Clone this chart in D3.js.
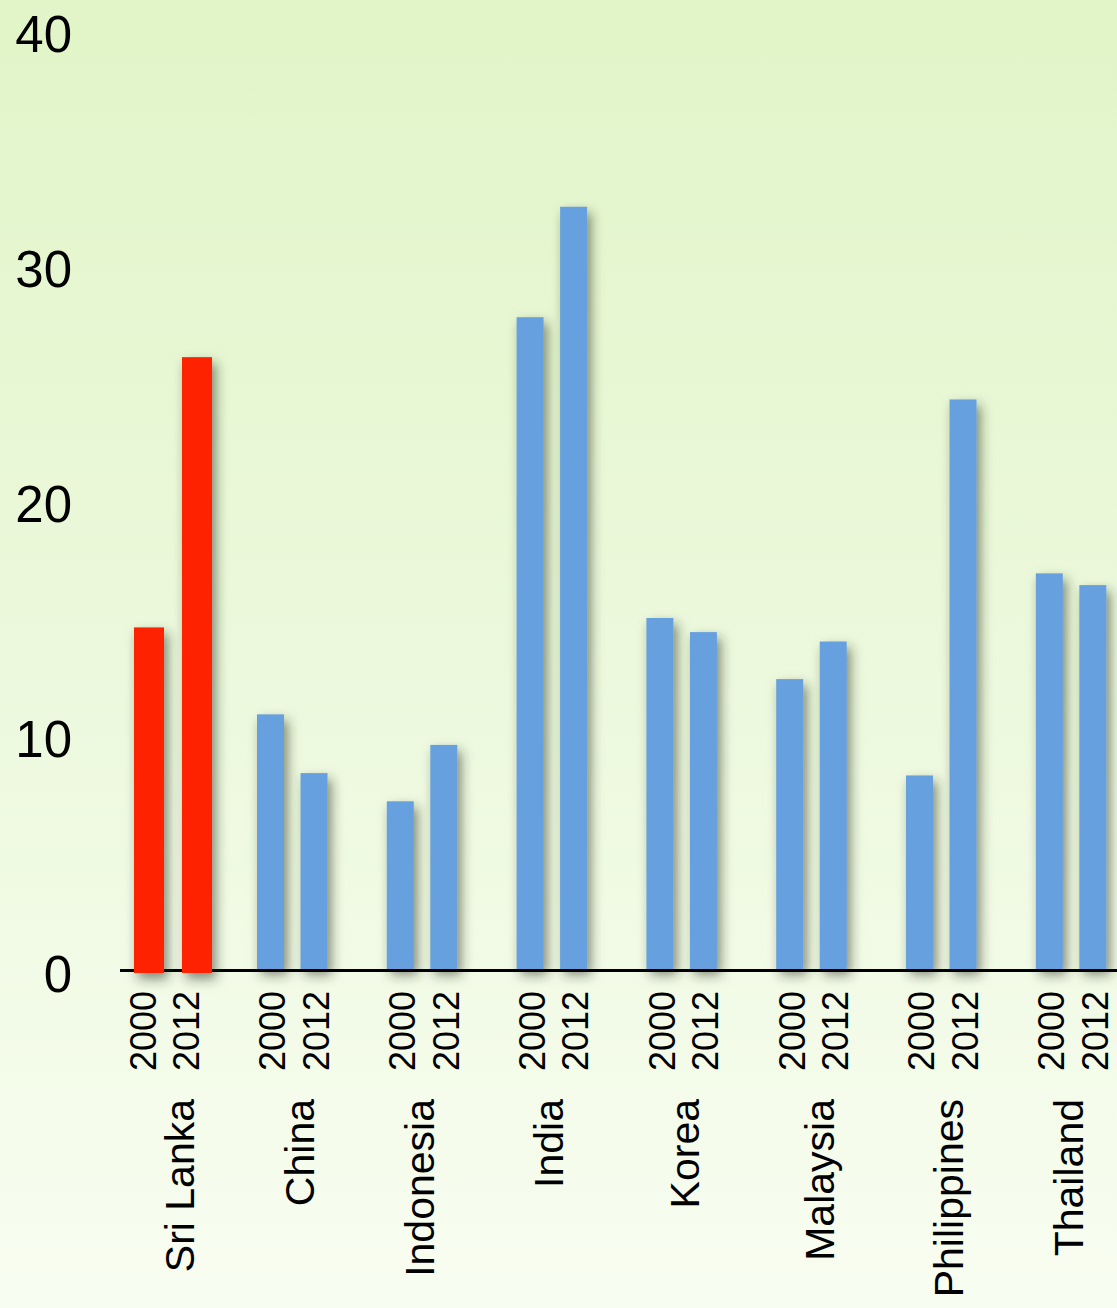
<!DOCTYPE html>
<html>
<head>
<meta charset="utf-8">
<script src="https://cdn.jsdelivr.net/npm/d3@7"></script>
<style>
  html, body { margin: 0; padding: 0; background: #f4fbea; }
  svg { display: block; font-family: "Liberation Sans", Arial, Helvetica, sans-serif; }
</style>
</head>
<body>
<svg id="chart" width="1117" height="1308"></svg>
<script>
// Countries, survey years and the value for each year
const countries = ["Sri Lanka", "China", "Indonesia", "India", "Korea", "Malaysia", "Philippines", "Thailand"];
const years = ["2000", "2012"];
const values2000 = [14.6, 10.9, 7.2, 27.8, 15.0, 12.4, 8.3, 16.9];
const values2012 = [26.1, 8.4, 9.6, 32.5, 14.4, 14.0, 24.3, 16.4];
const yTicks = [0, 10, 20, 30, 40];
const highlight = "Sri Lanka";

// hand placement of the country names relative to their group (px)
const labelShift = [10, 0, -10, -11, -5, 1, 0, -10];

const W = 1117, H = 1308;
const svg = d3.select("#chart");
const defs = svg.append("defs");

// Soft green backdrop fading towards the bottom
const grad = defs.append("linearGradient")
  .attr("id", "bg").attr("x1", 0).attr("y1", 0).attr("x2", 0).attr("y2", 1);
grad.append("stop").attr("offset", "0%").attr("stop-color", "#e1f5c8");
grad.append("stop").attr("offset", "55%").attr("stop-color", "#edf9de");
grad.append("stop").attr("offset", "100%").attr("stop-color", "#f8fdf1");
svg.append("rect").attr("width", W).attr("height", H).attr("fill", "url(#bg)");

// Drop shadow under the bars
const shadow = defs.append("filter").attr("id", "shadow")
  .attr("x", "-60%").attr("y", "-20%").attr("width", "220%").attr("height", "140%");
shadow.append("feDropShadow")
  .attr("dx", 4).attr("dy", 6).attr("stdDeviation", 6)
  .attr("flood-color", "#26301c").attr("flood-opacity", 0.55);

// Scales
const y = d3.scaleLinear().domain([0, 40]).range([970.5, 30.5]);
const x = d3.scaleBand().domain(countries).range([127.2, 1106.3]).paddingInner(0.457).paddingOuter(0);
const xYear = d3.scaleBand().domain(years).range([0, 70.5]).paddingInner(0.38).paddingOuter(0);
// the highlighted country gets wider, slightly shifted bars
const xYearHi = d3.scaleBand().domain(years).range([6.8, 84.8]).paddingInner(0.375).paddingOuter(0);

const rows = [];
countries.forEach((c, i) => {
  rows.push({ country: c, year: "2000", value: values2000[i] });
  rows.push({ country: c, year: "2012", value: values2012[i] });
});

// Y tick labels
const yAxis = d3.axisLeft(y).tickValues(yTicks).tickSize(0).tickPadding(0).tickFormat(d3.format("d"));
const gy = svg.append("g").attr("transform", "translate(72,0)").call(yAxis);
gy.select(".domain").remove();
gy.selectAll("text")
  .attr("fill", "#000").attr("font-size", 51).attr("font-family", null)
  .attr("dy", "0.42em").attr("text-anchor", "end");

// Regular bars
svg.append("g").attr("filter", "url(#shadow)")
  .selectAll("rect")
  .data(rows.filter(d => d.country !== highlight))
  .join("rect")
  .attr("x", d => x(d.country) + xYear(d.year))
  .attr("width", xYear.bandwidth())
  .attr("y", d => y(d.value))
  .attr("height", d => y(0) - 1.5 - y(d.value))
  .attr("fill", "#66a0de");

// Baseline
svg.append("line")
  .attr("x1", 120).attr("x2", W)
  .attr("y1", y(0)).attr("y2", y(0))
  .attr("stroke", "#000").attr("stroke-width", 3);

// Highlighted bars drawn over the baseline
svg.append("g").attr("filter", "url(#shadow)")
  .selectAll("rect")
  .data(rows.filter(d => d.country === highlight))
  .join("rect")
  .attr("x", d => x(d.country) + xYearHi(d.year))
  .attr("width", xYearHi.bandwidth())
  .attr("y", d => y(d.value))
  .attr("height", d => y(0) + 2.5 - y(d.value))
  .attr("fill", "#ff2400");

// Year labels under each bar
svg.append("g").selectAll("text")
  .data(rows)
  .join("text")
  .attr("transform", d => `translate(${x(d.country) + xYear(d.year) + xYear.bandwidth() / 2 + 1.5},991) rotate(-90)`)
  .attr("dy", "0.37em")
  .attr("text-anchor", "end")
  .attr("font-size", 36)
  .attr("fill", "#000")
  .text(d => d.year);

// Country labels
svg.append("g").selectAll("text")
  .data(countries)
  .join("text")
  .attr("transform", (d, i) => `translate(${x(d) + x.bandwidth() / 2 + 22 + labelShift[i]},1099) rotate(-90)`)
  .attr("text-anchor", "end")
  .attr("font-size", 41)
  .attr("fill", "#000")
  .text(d => d);
</script>
</body>
</html>
